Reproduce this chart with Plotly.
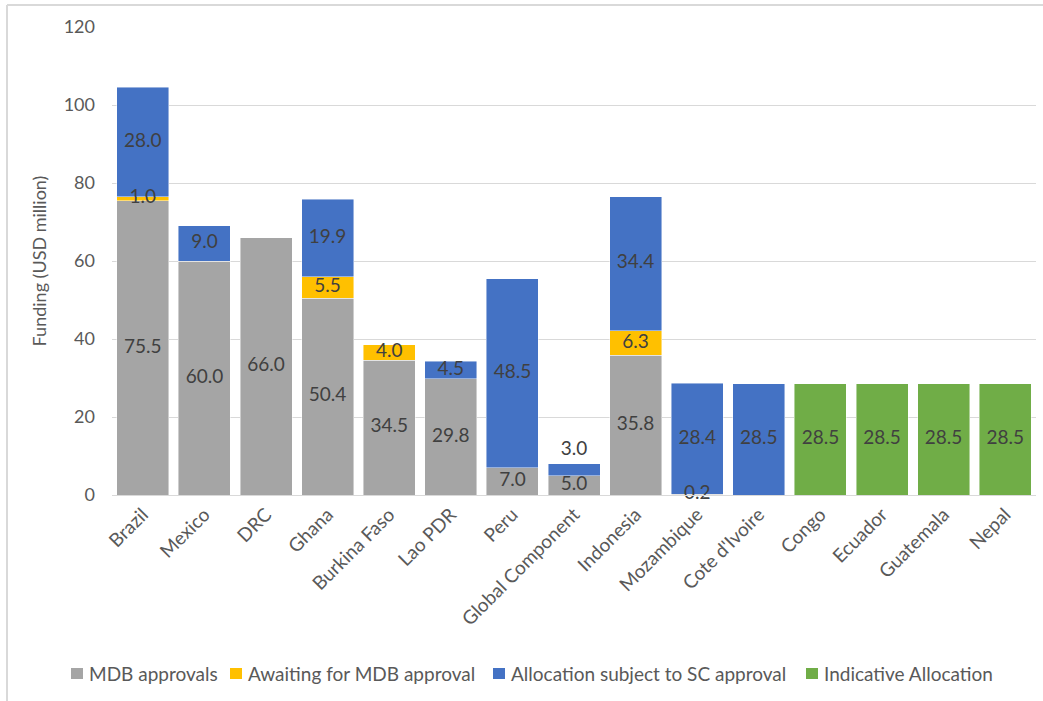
import plotly.graph_objects as go

categories = ["Brazil", "Mexico", "DRC", "Ghana", "Burkina Faso", "Lao PDR", "Peru",
              "Global Component", "Indonesia", "Mozambique", "Cote d'Ivoire",
              "Congo", "Ecuador", "Guatemala", "Nepal"]

mdb_approvals = [75.5, 60.0, 66.0, 50.4, 34.5, 29.8, 7.0, 5.0, 35.8, 0.2, 0, 0, 0, 0, 0]
awaiting_mdb = [1.0, 0, 0, 5.5, 4.0, 0, 0, 0, 6.3, 0, 0, 0, 0, 0, 0]
allocation_sc = [28.0, 9.0, 0, 19.9, 0, 4.5, 48.5, 3.0, 34.4, 28.4, 28.5, 0, 0, 0, 0]
indicative = [0, 0, 0, 0, 0, 0, 0, 0, 0, 0, 0, 28.5, 28.5, 28.5, 28.5]

series = [
    ("MDB approvals", mdb_approvals, "#A5A5A5"),
    ("Awaiting for MDB approval", awaiting_mdb, "#FFC000"),
    ("Allocation subject to SC approval", allocation_sc, "#4472C4"),
    ("Indicative Allocation", indicative, "#70AD47"),
]

FONT = "Lato, 'Open Sans', sans-serif"
W, H = 1043, 701
M_L, M_R, M_T, M_B = 112, 7, 27, 206
PLOT_W, PLOT_H = W - M_L - M_R, H - M_T - M_B


def px_to_paper_x(px):
    return (px - M_L) / PLOT_W


def px_to_paper_y(py):
    return (H - M_B - py) / PLOT_H


fig = go.Figure()

for name, vals, color in series:
    fig.add_trace(go.Bar(
        name=name, x=categories, y=[v if v else None for v in vals],
        marker=dict(color=color, line=dict(color="rgba(255,255,255,0.6)", width=0.75)),
        hoverinfo="x+y+name", showlegend=False,
    ))

# Value labels centred on each stacked segment
lab_x, lab_y, lab_t = [], [], []
base = [0.0] * len(categories)
for name, vals, color in series:
    for i, v in enumerate(vals):
        if v:
            y = base[i] + v / 2
            # the small top segment of the Global Component bar is labelled above it
            if categories[i] == "Global Component" and name.startswith("Allocation"):
                y = base[i] + v + 3.5
            lab_x.append(categories[i])
            lab_y.append(y)
            lab_t.append(f"{v:.1f}")
            base[i] += v

fig.add_trace(go.Scatter(
    x=lab_x, y=lab_y, text=lab_t, mode="text", showlegend=False,
    textfont=dict(family=FONT, size=19, color="#404040"),
    hoverinfo="skip", cliponaxis=False,
))

# Single-row legend along the bottom: colour swatch followed by series name
legend_swatch_left = [71, 230, 493, 806]
shapes = []
annotations = []
for (name, _, color), sx in zip(series, legend_swatch_left):
    shapes.append(dict(type="rect", xref="paper", yref="paper",
                       x0=px_to_paper_x(sx), x1=px_to_paper_x(sx + 12),
                       y0=px_to_paper_y(679), y1=px_to_paper_y(668),
                       fillcolor=color, line=dict(width=0)))
    annotations.append(dict(text=name, xref="paper", yref="paper",
                            x=px_to_paper_x(sx + 16), y=px_to_paper_y(673.5),
                            xanchor="left", yanchor="middle", showarrow=False,
                            font=dict(family=FONT, size=19, color="#595959")))

# Light frame along the top and left of the chart
shapes += [
    dict(type="line", xref="paper", yref="paper",
         x0=px_to_paper_x(7), x1=px_to_paper_x(W + 5), y0=px_to_paper_y(5), y1=px_to_paper_y(5),
         line=dict(color="#D9D9D9", width=2)),
    dict(type="line", xref="paper", yref="paper",
         x0=px_to_paper_x(7), x1=px_to_paper_x(7), y0=px_to_paper_y(5), y1=px_to_paper_y(H + 5),
         line=dict(color="#D9D9D9", width=2)),
]

fig.update_layout(
    barmode="stack",
    bargap=0.156,
    width=W, height=H,
    margin=dict(l=M_L, r=M_R, t=M_T, b=M_B),
    paper_bgcolor="white", plot_bgcolor="white",
    font=dict(family=FONT, color="#595959"),
    showlegend=False,
    xaxis=dict(range=[-0.5, len(categories) - 0.5], tickangle=-45,
               tickfont=dict(family=FONT, size=19, color="#595959"),
               showline=True, linecolor="#D9D9D9", linewidth=1, ticks=""),
    yaxis=dict(range=[0, 120], dtick=20, showgrid=True, gridcolor="#D9D9D9",
               zeroline=False, ticks="", ticklabelstandoff=16,
               tickfont=dict(family=FONT, size=18, color="#595959"),
               title=dict(text="Funding (USD million)", standoff=12,
                          font=dict(family=FONT, size=18, color="#595959"))),
    shapes=shapes,
    annotations=annotations,
)

fig.write_html("out.html")
